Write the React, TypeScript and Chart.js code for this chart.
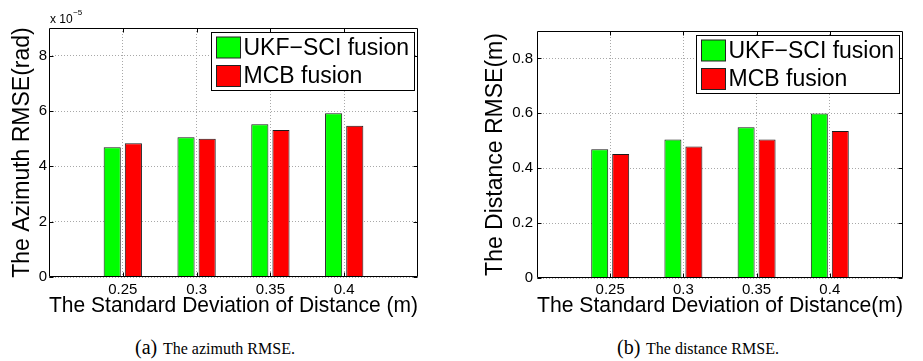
import React, { useEffect, useRef } from "react";
import { Chart, registerables } from "chart.js";

Chart.register(...registerables);

// ---- data ----
const noiseLevels = [0.25, 0.3, 0.35, 0.4]; // std. deviation of distance (m)
const azimuthUKF = [4.69, 5.05, 5.52, 5.92]; // x 1e-5 rad
const azimuthMCB = [4.83, 5.0, 5.31, 5.47]; // x 1e-5 rad
const distanceUKF = [0.469, 0.505, 0.549, 0.599]; // m
const distanceMCB = [0.452, 0.479, 0.505, 0.536]; // m
const seriesNames = ["UKF\u2212SCI fusion", "MCB fusion"];
const seriesColors = ["#00ff00", "#ff0000"];
const azimuthTicks = [0, 2, 4, 6, 8];
const distanceTicks = [0, 0.2, 0.4, 0.6, 0.8];

const SANS = "'Liberation Sans', Arial, Helvetica, sans-serif";
const SERIF = "'Liberation Serif', 'Times New Roman', serif";

const fmt = (v: number) => String(Number(Number(v).toFixed(3)));

// frame with inward ticks, MATLAB style
const framePlugin = {
  id: "frame",
  afterDatasetsDraw(chart: any) {
    const { ctx, chartArea: a, scales } = chart;
    const L = Math.round(a.left) + 0.5;
    const R = Math.round(a.right) - 0.5;
    const T = Math.round(a.top) + 0.5;
    const B = Math.round(a.bottom) - 0.5;
    const tl = 4;
    ctx.save();
    ctx.strokeStyle = "#000";
    ctx.lineWidth = 1;
    ctx.setLineDash([]);
    ctx.beginPath();
    ctx.rect(L, T, R - L, B - T);
    scales.x.ticks.forEach((t: any) => {
      const x = Math.round(scales.x.getPixelForValue(t.value)) + 0.5;
      ctx.moveTo(x, B);
      ctx.lineTo(x, B - tl);
      ctx.moveTo(x, T);
      ctx.lineTo(x, T + tl);
    });
    scales.y.ticks.forEach((t: any) => {
      const y = Math.round(scales.y.getPixelForValue(t.value)) + 0.5;
      ctx.moveTo(L, y);
      ctx.lineTo(L + tl, y);
      ctx.moveTo(R, y);
      ctx.lineTo(R - tl, y);
    });
    ctx.stroke();
    ctx.restore();
  },
};

// legend box inside the top-right corner of the axes
const boxLegendPlugin = {
  id: "boxLegend",
  afterDraw(chart: any) {
    const { ctx, chartArea: a } = chart;
    const w = 203;
    const h = 58;
    const x0 = Math.round(a.right - 4 - w) + 0.5;
    const y0 = Math.round(a.top + 4) + 0.5;
    ctx.save();
    ctx.fillStyle = "#fff";
    ctx.fillRect(x0, y0, w, h);
    ctx.strokeStyle = "#000";
    ctx.lineWidth = 1;
    ctx.strokeRect(x0, y0, w, h);
    ctx.font = `23px ${SANS}`;
    ctx.textBaseline = "middle";
    ctx.textAlign = "left";
    chart.data.datasets.forEach((ds: any, i: number) => {
      const sy = y0 + 4.5 + i * 28.5;
      ctx.fillStyle = ds.backgroundColor;
      ctx.fillRect(x0 + 5, sy, 24, 21);
      ctx.strokeStyle = "#222";
      ctx.strokeRect(x0 + 5, sy, 24, 21);
      ctx.fillStyle = "#000";
      ctx.fillText(ds.label, x0 + 32, sy + 11.5);
    });
    ctx.restore();
  },
};

// "x 10^-5" multiplier above the y axis
const expPlugin = {
  id: "expLabel",
  afterDraw(chart: any, _args: any, opts: any) {
    if (!opts || !opts.exp) return;
    const { ctx, chartArea: a } = chart;
    ctx.save();
    ctx.fillStyle = "#000";
    ctx.textAlign = "left";
    ctx.textBaseline = "alphabetic";
    ctx.font = `12px ${SANS}`;
    const base = "x 10";
    const x = a.left + 1;
    ctx.fillText(base, x, 23);
    const w = ctx.measureText(base).width;
    ctx.font = `8px ${SANS}`;
    ctx.fillText(opts.exp, x + w + 0.5, 15);
    ctx.restore();
  },
};

type PanelProps = {
  left: number;
  width: number;
  height: number;
  areaLeft: number;
  areaRight: number;
  areaTop: number;
  areaBottom: number;
  ukf: number[];
  mcb: number[];
  yTicks: number[];
  yMax: number;
  yTitle: string;
  xTitle: string;
  yTitlePad: number;
  yTickPad: number;
  xTickPad: number;
  exp?: string;
};

function Panel(p: PanelProps) {
  const ref = useRef<HTMLCanvasElement | null>(null);
  useEffect(() => {
    if (!ref.current) return;
    const mk = (vals: number[], i: number) => ({
      label: seriesNames[i],
      data: noiseLevels.map((x, k) => ({ x, y: vals[k] })),
      backgroundColor: seriesColors[i],
      borderColor: "#1a1a1a",
      borderWidth: 1,
      barPercentage: 0.81,
      categoryPercentage: 0.573,
    });
    const chart = new Chart(ref.current, {
      type: "bar",
      data: { datasets: [mk(p.ukf, 0), mk(p.mcb, 1)] as any },
      plugins: [framePlugin, boxLegendPlugin, expPlugin],
      options: {
        responsive: false,
        animation: false,
        devicePixelRatio: 1,
        layout: {
          padding: {
            left: 0,
            top: p.areaTop,
            right: p.width - p.areaRight,
            bottom: 0,
          },
        },
        plugins: {
          legend: { display: false },
          tooltip: { enabled: false },
          expLabel: { exp: p.exp },
        } as any,
        scales: {
          x: {
            type: "linear",
            min: 0.2,
            max: 0.45,
            offset: false,
            afterBuildTicks: (s: any) => {
              s.ticks = noiseLevels.map((v) => ({ value: v }));
            },
            afterFit: (s: any) => {
              s.height = p.height - p.areaBottom;
            },
            grid: {
              offset: false,
              drawTicks: false,
              color: "#a8a8a8",
              lineWidth: 1,
            },
            border: { display: false, dash: [1, 2] },
            ticks: {
              padding: p.xTickPad,
              color: "#000",
              font: { family: SANS, size: 15 },
              callback: (v: any) => fmt(v),
              maxRotation: 0,
            },
            title: {
              display: true,
              text: p.xTitle,
              color: "#000",
              font: { family: SANS, size: 22.7, lineHeight: 1 },
              padding: { top: 0, bottom: 7.5 },
            },
          },
          y: {
            type: "linear",
            min: 0,
            max: p.yMax,
            afterBuildTicks: (s: any) => {
              s.ticks = p.yTicks.map((v) => ({ value: v }));
            },
            afterFit: (s: any) => {
              s.width = p.areaLeft;
            },
            grid: {
              drawTicks: false,
              color: "#a8a8a8",
              lineWidth: 1,
            },
            border: { display: false, dash: [1, 2] },
            ticks: {
              padding: p.yTickPad,
              color: "#000",
              font: { family: SANS, size: 15 },
              callback: (v: any) => fmt(v),
            },
            title: {
              display: true,
              text: p.yTitle,
              color: "#000",
              font: { family: SANS, size: 23, lineHeight: 1 },
              padding: { top: p.yTitlePad, bottom: 0 },
            },
          },
        },
      } as any,
    });
    return () => chart.destroy();
  }, []);
  return (
    <canvas
      ref={ref}
      width={p.width}
      height={p.height}
      style={{
        position: "absolute",
        left: p.left,
        top: 0,
        width: p.width,
        height: p.height,
        display: "block",
      }}
    />
  );
}

function Caption({ left, tag, text }: { left: number; tag: string; text: string }) {
  return (
    <div
      style={{
        position: "absolute",
        left,
        top: 334.5,
        fontFamily: SERIF,
        fontSize: 20,
        lineHeight: "24px",
        whiteSpace: "nowrap",
        color: "#000",
      }}
    >
      {tag}
      <span style={{ fontSize: 16, marginLeft: 2 }}> {text}</span>
    </div>
  );
}

export default function App() {
  return (
    <div
      style={{
        position: "absolute",
        left: 0,
        top: 0,
        width: 923,
        height: 361,
        background: "#fff",
        overflow: "hidden",
      }}
    >
      <Panel
        left={0}
        width={460}
        height={325}
        areaLeft={49}
        areaRight={418}
        areaTop={28}
        areaBottom={277}
        ukf={azimuthUKF}
        mcb={azimuthMCB}
        yTicks={azimuthTicks}
        yMax={9}
        yTitle="The Azimuth RMSE(rad)"
        xTitle="The Standard Deviation of Distance (m)"
        yTitlePad={11}
        yTickPad={2}
        xTickPad={4}
        exp={"\u22125"}
      />
      <Panel
        left={460}
        width={463}
        height={325}
        areaLeft={77}
        areaRight={443}
        areaTop={31}
        areaBottom={278}
        ukf={distanceUKF}
        mcb={distanceMCB}
        yTicks={distanceTicks}
        yMax={0.9}
        yTitle="The Distance RMSE(m)"
        xTitle="The Standard Deviation of Distance(m)"
        yTitlePad={24.5}
        yTickPad={4}
        xTickPad={3}
      />
      <Caption left={135} tag="(a)" text="The azimuth RMSE." />
      <Caption left={617} tag="(b)" text="The distance RMSE." />
    </div>
  );
}
